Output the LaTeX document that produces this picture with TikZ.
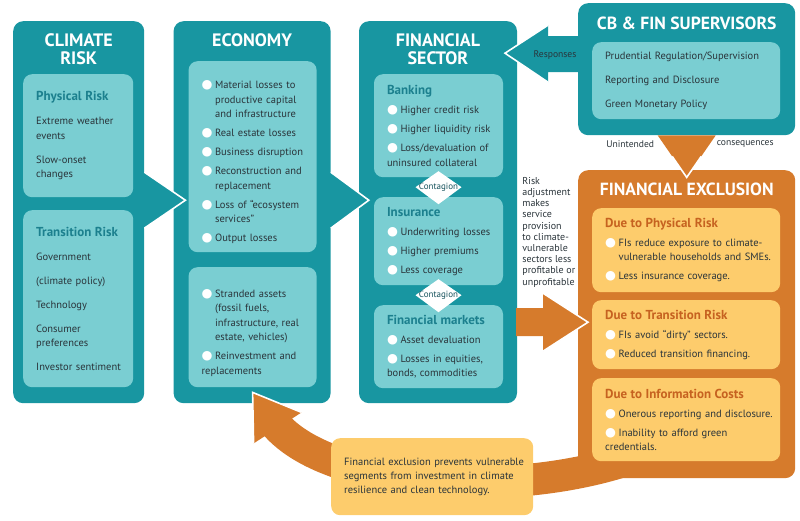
\documentclass[tikz,border=0pt]{standalone}
\usepackage{fontspec}
\setmainfont{PT Sans}
\newfontfamily\dotfont{DejaVu Sans}
\usetikzlibrary{positioning,calc}

\definecolor{panelteal}{RGB}{24,150,161}
\definecolor{boxteal}{RGB}{122,206,210}
\definecolor{headteal}{RGB}{28,128,142}
\definecolor{bodytext}{RGB}{42,52,58}
\definecolor{panelorange}{RGB}{214,123,44}
\definecolor{boxyellow}{RGB}{253,204,108}
\definecolor{headorange}{RGB}{198,98,32}
\definecolor{contagtext}{RGB}{22,82,92}

\newcommand{\bdot}{{\dotfont\fontsize{12.5}{12}\selectfont\textcolor{white}{●}}}
\newcommand{\bitem}[1]{\par\noindent\hangindent=13.5pt\hangafter=1\makebox[13.5pt][l]{\bdot}#1}
\newcommand{\thead}[1]{{\bfseries\color{headteal}\fontsize{13}{14}\selectfont #1}}
\newcommand{\ohead}[1]{{\bfseries\color{headorange}\fontsize{13}{14}\selectfont #1}}

\begin{document}
\begin{tikzpicture}[x=1pt, y=-1pt,
    panel/.style={rectangle, rounded corners=10pt, fill=panelteal, anchor=north west, inner sep=0pt},
    opanel/.style={panel, fill=panelorange},
    inbox/.style={rectangle, rounded corners=9pt, fill=boxteal, anchor=north west, inner xsep=0pt, inner ysep=0pt, align=left, text=bodytext, font={\fontsize{10.5}{14.5}\selectfont}, execute at begin node={\setlength{\leftskip}{12pt}\setlength{\parskip}{4.5pt}}},
    spaced/.style={execute at begin node={\setlength{\leftskip}{12pt}\setlength{\parskip}{9.5pt}}},
    ybox/.style={inbox, fill=boxyellow},
    ptitle/.style={font=\bfseries\fontsize{18}{18}\selectfont, text=white, align=center},
    stitle/.style={ptitle, font=\bfseries\fontsize{17.6}{18}\selectfont},
    note/.style={font=\fontsize{9.6}{11}\selectfont, text=bodytext, align=left, inner sep=0pt},
    contag/.style={font=\fontsize{9}{11}\selectfont, text=contagtext, inner sep=0pt},
    tipedge/.style={white, line width=1.6pt, line join=miter}
]
    \useasboundingbox (0,0) rectangle (800,521);

    % panels
    \node[panel, minimum width=131pt, minimum height=382pt] (climate) at (13,21) {};
    \node[panel, minimum width=157pt, minimum height=382pt, right=29pt of climate] (econ) {};
    \node[panel, minimum width=158pt, minimum height=382pt, right=28pt of econ] (fin) {};
    \node[panel, minimum width=217pt, minimum height=132pt] (cb) at (578,3) {};
    \node[opanel, minimum width=217pt, minimum height=308pt] (fe) at (578,170) {};

    % feedback band, under the boxes
    \draw[panelorange, line width=32pt] ($(fe.south west)+(62,-23)$) .. controls ($(fe.south west)+(-58,22)$) and ($(econ.south)+(74,86)$) .. ($(econ.south)+(21,18)$);

    % titles
    \node[ptitle] (climtitle) at ($(climate.north)+(0,28)$) {CLIMATE\\RISK};
    \node[ptitle] (econtitle) at ($(econ.north)+(0,19)$) {ECONOMY};
    \node[ptitle] (fintitle) at ($(fin.north)+(0,28)$) {FINANCIAL\\SECTOR};
    \node[stitle] (cbtitle) at ($(cb.north)+(0,20)$) {CB \& FIN SUPERVISORS};
    \node[stitle] (fetitle) at ($(fe.north)+(0,19)$) {FINANCIAL EXCLUSION};

    % climate risk
    \node[inbox, spaced, text width=108pt, minimum width=110pt, minimum height=123pt] (phys) at ($(climate.north west)+(10,53)$) {\thead{Physical Risk}\par Extreme weather\break events\par Slow-onset\break changes};
    \node[inbox, spaced, text width=108pt, minimum width=110pt, minimum height=177pt] (trans) at ($(climate.north west)+(10,189)$) {\thead{Transition Risk}\par Government\par (climate policy)\par Technology\par Consumer\break preferences\par Investor sentiment};

    % economy
    \node[inbox, text width=126pt, minimum width=128pt, minimum height=191pt] (ecotop) at ($(econ.north west)+(15,40)$) {\bitem{Material losses to\break productive capital\break and infrastructure}\bitem{Real estate losses}\bitem{Business disruption}\bitem{Reconstruction and\break replacement}\bitem{Loss of ``ecosystem\break services''}\bitem{Output losses}};
    \node[inbox, text width=126pt, minimum width=128pt, minimum height=120pt] (ecobot) at ($(econ.north west)+(15,246)$) {\bitem{Stranded assets\break (fossil fuels,\break infrastructure, real\break estate, vehicles)}\bitem{Reinvestment and\break replacements}};

    % financial sector
    \node[inbox, text width=127pt, minimum width=129pt, minimum height=103pt] (bank) at ($(fin.north west)+(15,53)$) {\thead{Banking}\bitem{Higher credit risk}\bitem{Higher liquidity risk}\bitem{Loss/devaluation of\break uninsured collateral}};
    \node[inbox, text width=127pt, minimum width=129pt, minimum height=88pt] (ins) at ($(fin.north west)+(15,176)$) {\thead{Insurance}\bitem{Underwriting losses}\bitem{Higher premiums}\bitem{Less coverage}};
    \node[inbox, text width=127pt, minimum width=129pt, minimum height=83pt] (mkt) at ($(fin.north west)+(15,284)$) {\thead{Financial markets}\bitem{Asset devaluation}\bitem{Losses in equities,\break bonds, commodities}};

    \coordinate (cont1) at ($(bank.south)!0.5!(ins.north)$);
    \coordinate (cont2) at ($(ins.south)!0.5!(mkt.north)$);
    \fill[white] ($(cont1)+(-23,0)$) -- ($(cont1)+(0,-16)$) -- ($(cont1)+(23,0)$) -- ($(cont1)+(0,17)$) -- cycle;
    \fill[white] ($(cont2)+(-23,0)$) -- ($(cont2)+(0,-16)$) -- ($(cont2)+(23,0)$) -- ($(cont2)+(0,17)$) -- cycle;
    \node[contag] (cont1lbl) at (cont1) {Contagion};
    \node[contag] (cont2lbl) at (cont2) {Contagion};

    % supervisors
    \node[inbox, spaced, text width=186pt, minimum width=188pt, minimum height=77pt] (cbin) at ($(cb.north west)+(14,39)$) {Prudential Regulation/Supervision\par Reporting and Disclosure\par Green Monetary Policy};

    % financial exclusion
    \node[ybox, text width=186pt, minimum width=188pt, minimum height=84pt] (fephys) at ($(fe.north west)+(14,38)$) {\ohead{Due to Physical Risk}\bitem{FIs reduce exposure to climate-\break vulnerable households and SMEs.}\bitem{Less insurance coverage.}};
    \node[ybox, text width=186pt, minimum width=188pt, minimum height=69pt] (fetrans) at ($(fe.north west)+(14,130)$) {\ohead{Due to Transition Risk}\bitem{FIs avoid ``dirty'' sectors.}\bitem{Reduced transition financing.}};
    \node[ybox, text width=186pt, minimum width=188pt, minimum height=83pt] (feinfo) at ($(fe.north west)+(14,208)$) {\ohead{Due to Information Costs}\bitem{Onerous reporting and disclosure.}\bitem{Inability to afford green\break credentials.}};

    % chevrons between panels
    \fill[panelteal] ($(climate.east)+(-1,-40)$) -- ($(climate.east)+(41,-12)$) -- ($(climate.east)+(-1,16)$) -- cycle;
    \draw[tipedge] ($(climate.east)+(0,-40)$) -- ($(climate.east)+(41,-12)$) -- ($(climate.east)+(0,16)$);
    \fill[panelteal] ($(econ.east)+(-1,-40)$) -- ($(econ.east)+(38,-12)$) -- ($(econ.east)+(-1,16)$) -- cycle;
    \draw[tipedge] ($(econ.east)+(0,-40)$) -- ($(econ.east)+(38,-12)$) -- ($(econ.east)+(0,16)$);

    % responses
    \fill[panelteal] ($(cb.west)+(1,-33)$) -- ($(cb.west)+(-30,-33)$) -- ($(cb.west)+(-30,-44)$) -- ($(cb.west)+(-73,-16)$) -- ($(cb.west)+(-30,13)$) -- ($(cb.west)+(-30,3)$) -- ($(cb.west)+(1,3)$) -- cycle;
    \draw[tipedge] ($(cb.west)+(-30,-44)$) -- ($(cb.west)+(-73,-16)$) -- ($(cb.west)+(-30,13)$);

    % risk adjustment arrow
    \fill[panelorange] ($(fe.west)+(-62,-16)$) -- ($(fe.west)+(-35,-16)$) -- ($(fe.west)+(-35,-31)$) -- ($(fe.west)+(10,-2)$) -- ($(fe.west)+(-35,27)$) -- ($(fe.west)+(-35,12)$) -- ($(fe.west)+(-62,12)$) -- cycle;
    \draw[tipedge] ($(fe.west)+(-35,-31)$) -- ($(fe.west)+(10,-2)$) -- ($(fe.west)+(-35,27)$);

    % unintended consequences
    \fill[panelorange] ($(cb.south)+(-29,0)$) -- ($(cb.south)+(29,0)$) -- ($(cb.south)+(0,42)$) -- cycle;
    \draw[tipedge] ($(cb.south)+(-14.5,21)$) -- ($(cb.south)+(0,42)$) -- ($(cb.south)+(14.5,21)$);

    % head of feedback band
    \fill[panelorange] ($(econ.south)+(0.5,-11)$) -- ($(econ.south)+(1.5,40)$) -- ($(econ.south)+(49.5,9)$) -- cycle;
    \draw[tipedge] ($(econ.south)+(1.5,40)$) -- ($(econ.south)+(0.5,-11)$) -- ($(econ.south)+(49.5,9)$);

    \node[ybox, text width=200pt, minimum width=202pt, minimum height=77pt, font={\fontsize{10.5}{14}\selectfont}] (fexnote) at (331,438) {Financial exclusion prevents vulnerable\break segments from investment in climate\break resilience and clean technology.};

    % labels
    \node[note] (resplbl) at ($(cb.west)+(-23,-14)$) {Responses};
    \node[note] (unintlbl) at ($(cb.south)+(-56.5,9)$) {Unintended};
    \node[note] (conseqlbl) at ($(cb.south)+(58.5,9)$) {consequences};
    \node[note, anchor=north west, font=\fontsize{10}{11.2}\selectfont] (risklbl) at ($(fin.north east)+(5,156)$) {Risk\\adjustment\\makes\\service\\provision\\to climate-\\vulnerable\\sectors less\\profitable or\\unprofitable};
\end{tikzpicture}
\end{document}
